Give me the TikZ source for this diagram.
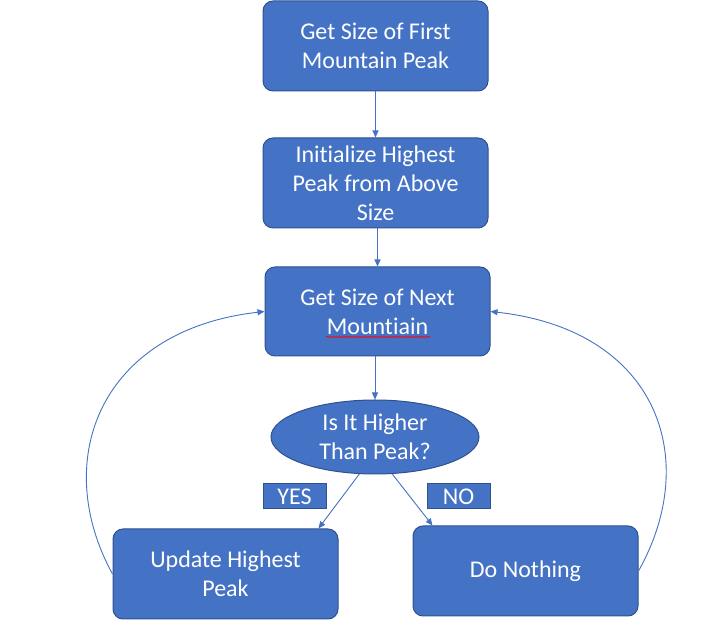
\documentclass[tikz,border=0pt]{standalone}
\usepackage{fontspec}
\setmainfont[Ligatures=NoCommon]{Carlito}
\usetikzlibrary{arrows.meta,shapes.geometric,decorations.pathmorphing}
\definecolor{officeblue}{HTML}{4472C4}
\definecolor{officeedge}{HTML}{2F528F}

\begin{document}
\begin{tikzpicture}[x=1pt,y=1pt,>={Triangle[length=7pt,width=6pt]}]
    \tikzstyle{box}=[draw=officeedge,fill=officeblue,rounded corners=10pt,line width=1pt,minimum width=225pt,minimum height=90pt,text=white,align=center,font=\fontsize{24}{29}\selectfont]
    \tikzstyle{ask}=[ellipse,draw=officeedge,fill=officeblue,line width=1pt,minimum width=208pt,minimum height=74pt,inner sep=0pt,text=white,align=center,font=\fontsize{24}{29}\selectfont]
    \tikzstyle{tag}=[draw=officeedge,fill=officeblue,line width=1pt,minimum width=63pt,minimum height=25pt,inner sep=0pt,text=white,font=\fontsize{24}{29}\selectfont]
    \tikzstyle{conn}=[->,draw=officeblue,line width=0.9pt]
    \useasboundingbox (0,0) rectangle (722,628);
    \node[box] (first) at (375.5,582) {Get Size of First\\Mountain Peak};
    \node[box] (init) at (375.5,445) {Initialize Highest\\Peak from Above\\Size};
    \node[box,minimum height=89pt] (next) at (377.5,316.5) {Get Size of Next\\Mount\kern0pt iain};
    \node[ask] (ask) at (375,191) {Is It Higher\\Than Peak?};
    \node[tag] (yes) at (294.5,131.5) {YES};
    \node[tag] (no) at (458.5,131.5) {NO};
    \node[box] (update) at (225.5,54) {Update Highest\\Peak};
    \node[box] (nothing) at (525.5,57) {Do Nothing};
    \draw[red,line width=0.6pt,decorate,decoration={snake,amplitude=0.8pt,segment length=3pt}] (326,291) -- (430,291);
    \draw[conn] (first) -- (init);
    \draw[conn] (next.north |- init.south) -- (next.north);
    \draw[conn] (ask.north |- next.south) -- (ask.north);
    \draw[conn] (ask.247) -- ([xshift=-20pt]update.north east);
    \draw[conn] (ask.295) -- ([xshift=20pt]nothing.north west);
    \draw[conn] (update.west) .. controls (50,168) and (100,298) .. (next.west);
    \draw[conn] (nothing.east) .. controls (702,170) and (657,298) .. (next.east);
\end{tikzpicture}
\end{document}
